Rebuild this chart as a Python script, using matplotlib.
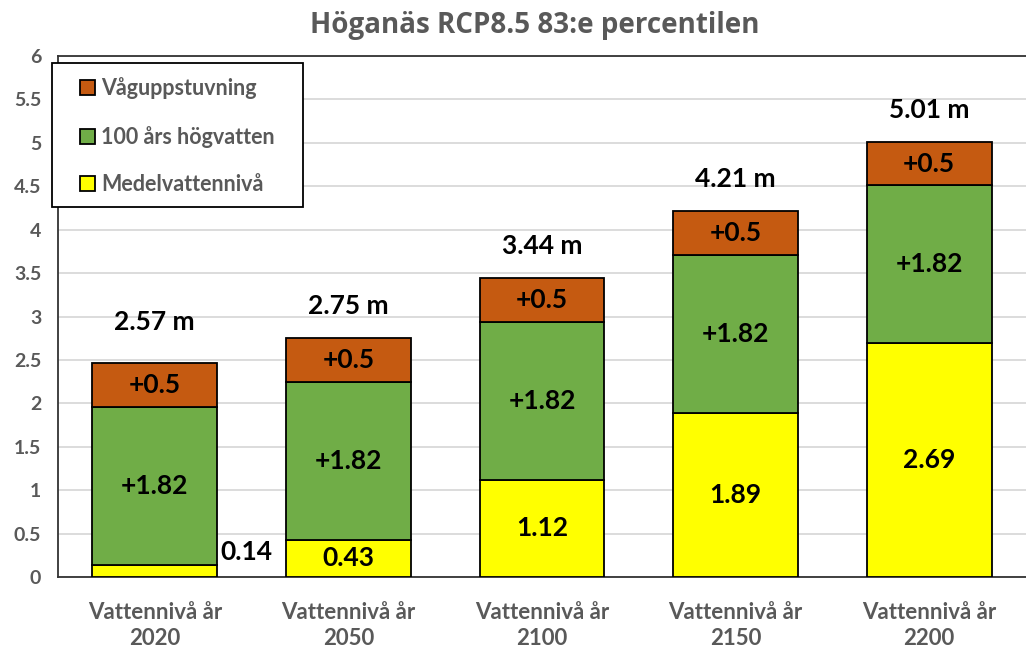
import matplotlib
matplotlib.use("Agg")
import matplotlib.pyplot as plt
from matplotlib.patches import Rectangle
import numpy as np

categories = ["Vattennivå år\n2020", "Vattennivå år\n2050", "Vattennivå år\n2100",
              "Vattennivå år\n2150", "Vattennivå år\n2200"]
medel = [0.14, 0.43, 1.12, 1.89, 2.69]
hogvatten = [1.82, 1.82, 1.82, 1.82, 1.82]
vag = [0.5, 0.5, 0.5, 0.5, 0.5]
total_labels = [2.57, 2.75, 3.44, 4.21, 5.01]
yticks = [0, 0.5, 1, 1.5, 2, 2.5, 3, 3.5, 4, 4.5, 5, 5.5, 6]
ytick_labels = ["0", "0.5", "1", "1.5", "2", "2.5", "3", "3.5", "4", "4.5", "5", "5.5", "6"]

plt.rcParams['font.family'] = ['Lato', 'DejaVu Sans']
GRAY = '#595959'
C_Y = '#FFFF00'
C_G = '#70AD47'
C_O = '#C55A11'

fig = plt.figure(figsize=(10.26, 6.51), dpi=100)
ax = fig.add_axes([58/1026, 74/651, 968/1026, 521/651])

x = np.arange(len(categories))
w = 0.645
bot2 = np.array(medel)
bot3 = bot2 + np.array(hogvatten)
ax.bar(x, medel, w, color=C_Y, edgecolor='black', linewidth=1.3, label='Medelvattennivå', zorder=3)
ax.bar(x, hogvatten, w, bottom=bot2, color=C_G, edgecolor='black', linewidth=1.3, label='100 års högvatten', zorder=3)
ax.bar(x, vag, w, bottom=bot3, color=C_O, edgecolor='black', linewidth=1.3, label='Våguppstuvning', zorder=3)

fs = 19
for i in range(len(x)):
    ax.text(x[i], bot3[i] + vag[i] / 2, f"+{vag[i]:g}", ha='center', va='center',
            fontsize=fs, fontweight='bold', color='black', zorder=4)
    ax.text(x[i], bot2[i] + hogvatten[i] / 2, f"+{hogvatten[i]:g}", ha='center', va='center',
            fontsize=fs, fontweight='bold', color='black', zorder=4)
    if i == 0:
        ax.text(x[i] + 0.475, 0.29, f"{medel[i]:g}", ha='center', va='center',
                fontsize=fs, fontweight='bold', color='black', zorder=4)
    else:
        ax.text(x[i], medel[i] / 2, f"{medel[i]:g}", ha='center', va='center',
                fontsize=fs, fontweight='bold', color='black', zorder=4)
    ax.annotate(f"{total_labels[i]:g} m", (x[i], total_labels[i]), xytext=(0, 23),
                textcoords='offset points', ha='center', va='center',
                fontsize=fs, fontweight='bold', color='black', zorder=4)

ax.set_xlim(-0.5, 4.5)
ax.set_ylim(0, 6)
ax.set_yticks(yticks)
ax.set_yticklabels(ytick_labels)
ax.set_xticks(x)
ax.set_xticklabels(categories, linespacing=1.3)
ax.yaxis.grid(True, color='#D9D9D9', linewidth=1.3, zorder=0)
ax.set_axisbelow(True)
ax.tick_params(axis='y', which='major', length=0, pad=12, labelsize=14, labelcolor=GRAY)
ax.tick_params(axis='x', length=0, pad=18, labelsize=16, labelcolor=GRAY)
for lab in ax.get_xticklabels() + ax.get_yticklabels():
    lab.set_fontweight('bold')
ax.set_yticks([0, 6], minor=True)
ax.tick_params(axis='y', which='minor', length=6, width=1.3, color='#333333')

ax.spines['right'].set_visible(False)
for s in ['left', 'bottom', 'top']:
    ax.spines[s].set_color('#333333')
    ax.spines[s].set_linewidth(1.3)

# legend frame (drawn as a box matching the reference size)
frame = Rectangle((-6/968, (577-207)/521), (303-52)/968, (207-63)/521,
                  transform=ax.transAxes, facecolor='white', edgecolor='black',
                  linewidth=1.3, zorder=4.5, clip_on=False)
ax.add_patch(frame)

handles, labels = ax.get_legend_handles_labels()
leg = ax.legend(handles[::-1], labels[::-1], loc='upper left',
                bbox_to_anchor=(0.0075, 0.987), frameon=False,
                prop={'family': 'Lato', 'weight': 'bold', 'size': 15.5},
                labelcolor=GRAY, handlelength=0.7, handleheight=0.7, handletextpad=0.3,
                labelspacing=1.22, borderpad=0.68, borderaxespad=0)
leg.set_zorder(5)
for p in leg.get_patches():
    p.set_linewidth(1.3)

fig.text(535/1026, 1 - 25/651, "Höganäs RCP8.5 83:e percentilen", ha='center', va='center',
         fontsize=20, fontweight='bold', color=GRAY, family=['Open Sans', 'DejaVu Sans'])

fig.savefig('out.png', dpi=100)
